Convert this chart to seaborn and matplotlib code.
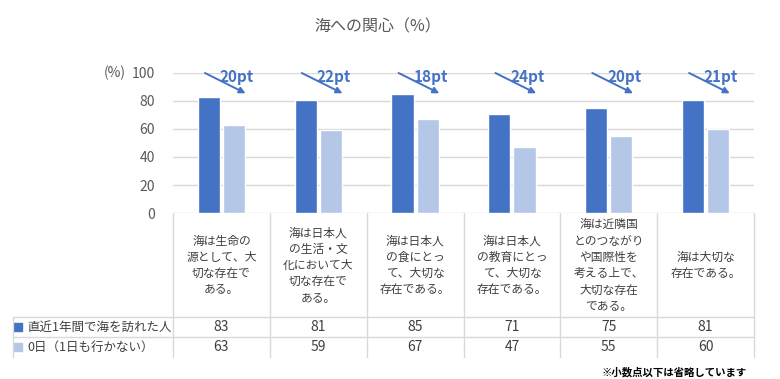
import pandas as pd
import matplotlib
matplotlib.use('Agg')
import matplotlib.pyplot as plt
import seaborn as sns

# data
categories = ['海は生命の\n源として、大\n切な存在で\nある。',
              '海は日本人\nの生活・文\n化において大\n切な存在で\nある。',
              '海は日本人\nの食にとっ\nて、大切な\n存在である。',
              '海は日本人\nの教育にとっ\nて、大切な\n存在である。',
              '海は近隣国\nとのつながり\nや国際性を\n考える上で、\n大切な存在\nである。',
              '海は大切な\n存在である。']
series_names = ['直近1年間で海を訪れた人', '0日（1日も行かない）']
visited = [83, 81, 85, 71, 75, 81]
never = [63, 59, 67, 47, 55, 60]
colors = ['#4472C4', '#B4C7E7']

sns.set_style('white')
plt.rcParams['font.family'] = ['Noto Sans CJK JP', 'DejaVu Sans']

df = pd.DataFrame({'cat': list(range(len(categories))) * 2,
                   'value': visited + never,
                   'series': [series_names[0]] * len(visited) + [series_names[1]] * len(never)})

fig = plt.figure(figsize=(7.8, 3.79), dpi=100)
ax = fig.add_axes([173 / 780, 1 - 213 / 379, 581 / 780, 140 / 379])
sns.barplot(data=df, x='cat', y='value', hue='series', hue_order=series_names,
            palette=colors, width=0.52, gap=0.12, dodge=True, ax=ax, legend=False,
            saturation=1)

ax.set_xlim(-0.5, len(categories) - 0.5)
ax.set_ylim(0, 100)
ax.set_yticks(range(0, 101, 20))
ax.set_xticks([])
ax.set_xlabel('')
ax.set_ylabel('')
ax.tick_params(axis='y', length=0, pad=13, labelsize=10, labelcolor='#595959')
ax.grid(axis='y', color='#D9D9D9', lw=1)
ax.set_axisbelow(True)
for s in ax.spines.values():
    s.set_visible(False)
ax.text(-1.1, 100, '(%)', ha='center', va='center', fontsize=10, color='#595959')

# difference arrows
for i, (a, b) in enumerate(zip(visited, never)):
    ax.annotate('', xy=(i + 0.25, 85.5), xytext=(i - 0.17, 100),
                arrowprops=dict(arrowstyle='-|>', color='#4472C4', lw=1.4,
                                mutation_scale=9, shrinkA=0, shrinkB=0),
                annotation_clip=False)
    ax.text(i + 0.16, 97, f'{a - b}pt', ha='center', va='center', fontsize=11,
            fontweight='bold', color='#4472C4', clip_on=False)

# data table below the plot
n = len(categories)
line_kw = dict(color='#D9D9D9', lw=1, clip_on=False)
row_top, row1, row2, row_bot = 0, -74.3, -88.6, -102.9
left = -2.152
for k in range(n + 1):
    ax.plot([k - 0.5, k - 0.5], [row_top, row_bot], **line_kw)
ax.plot([left, left], [row1, row_bot], **line_kw)
ax.plot([left, n - 0.5], [row1, row1], **line_kw)
ax.plot([left, n - 0.5], [row2, row2], **line_kw)

for i, lab in enumerate(categories):
    ax.text(i, -37.5, lab, ha='center', va='center', fontsize=8.5, color='#404040',
            linespacing=1.33, clip_on=False)
    ax.text(i, (row1 + row2) / 2, str(visited[i]), ha='center', va='center',
            fontsize=10, color='#404040', clip_on=False)
    ax.text(i, (row2 + row_bot) / 2, str(never[i]), ha='center', va='center',
            fontsize=10, color='#404040', clip_on=False)

for (y0, y1), name, c in zip([(row1, row2), (row2, row_bot)], series_names, colors):
    ym = (y0 + y1) / 2
    ax.scatter([left + 0.055], [ym], marker='s', s=28, color=c, clip_on=False)
    ax.text(left + 0.15, ym, name, ha='left', va='center', fontsize=9,
            color='#404040', clip_on=False)

fig.text(378 / 780, 1 - 27 / 379, '海への関心（%）', ha='center', va='center',
         fontsize=11.5, color='#595959')
fig.text(747 / 780, 1 - 372 / 379, '※小数点以下は省略しています', ha='right',
         va='center', fontsize=7.5, fontweight='bold', color='#000000')

fig.savefig('out.png', dpi=100)
